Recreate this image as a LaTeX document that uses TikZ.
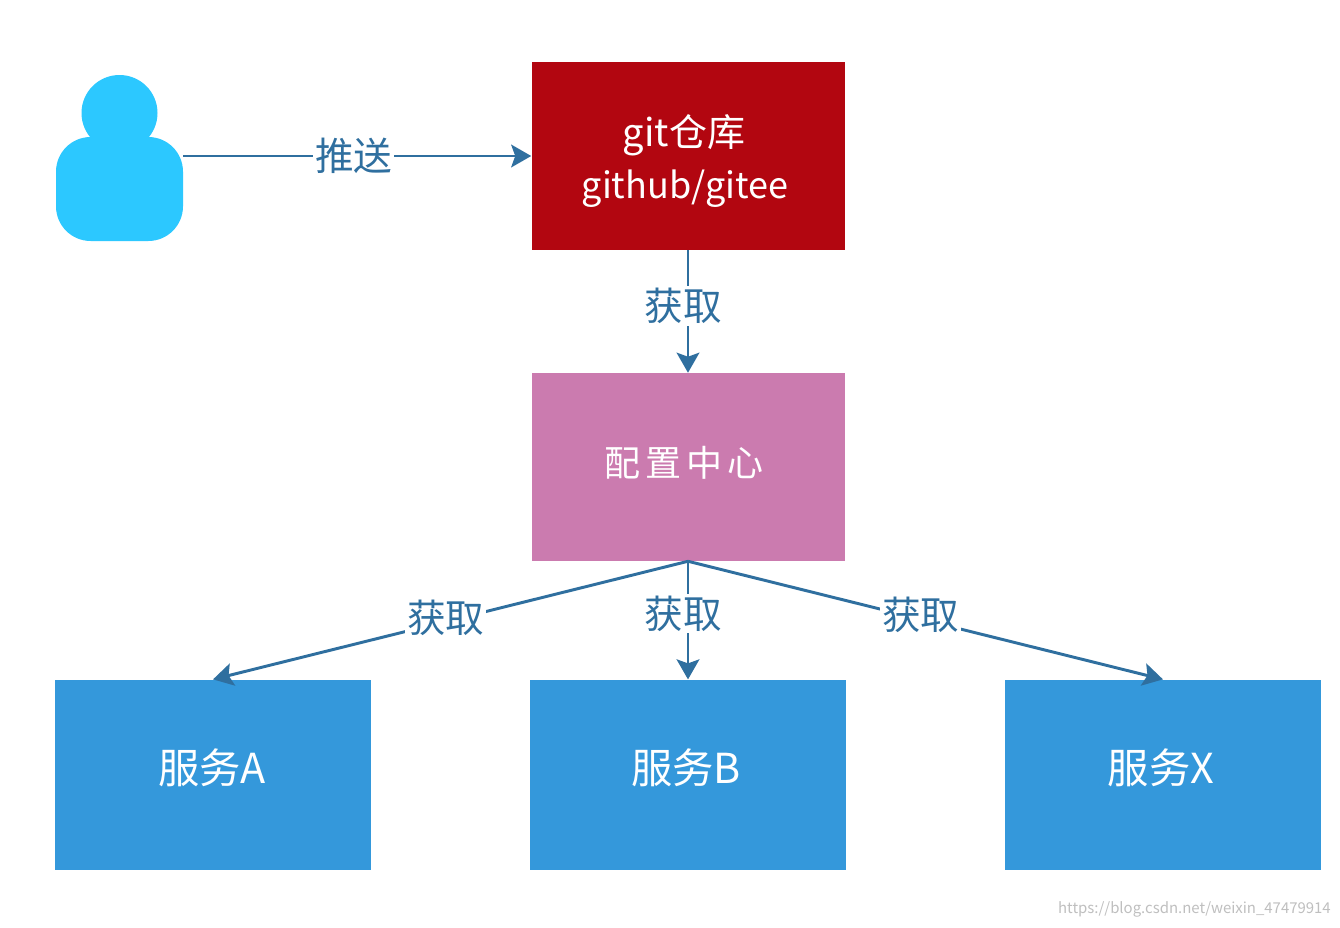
\documentclass[tikz,border=0pt]{standalone}
\usepackage{fontspec}
\setmainfont{Noto Sans CJK SC}
\usetikzlibrary{arrows.meta}
\definecolor{linec}{HTML}{2F6F9F}
\definecolor{bluebox}{HTML}{3498DB}
\definecolor{redbox}{HTML}{B20610}
\definecolor{pinkbox}{HTML}{CB7BAF}
\definecolor{person}{HTML}{2CC8FF}
\newcommand{\cjkbig}{\fontsize{31pt}{36pt}\selectfont}
\tikzset{
  x=0.75pt,y=-0.75pt,
  boxn/.style={draw=none,minimum width=#1*0.75pt,inner sep=0pt},
  boxt/.style={text=white,inner sep=0pt,align=center,font=\cjkbig},
  conn/.style={draw=linec,line width=2.2pt,-{Stealth[length=15pt,width=17pt,inset=3pt]}},
  lab/.style={fill=white,text=linec,inner sep=1.5pt,font=\fontsize{29pt}{30pt}\selectfont}
}
\begin{document}
\begin{tikzpicture}
\useasboundingbox (0,0) rectangle (1340,928);
\fill[white] (0,0) rectangle (1340,928);
\node[boxn=313,fill=redbox,minimum height=141pt] (git) at (688,156) {};
\node[boxn=313,fill=pinkbox,minimum height=141pt] (cfg) at (688,467) {};
\node[boxn=316,fill=bluebox,minimum height=143pt] (a) at (213,775) {};
\node[boxn=316,fill=bluebox,minimum height=143pt] (b) at (688,775) {};
\node[boxn=316,fill=bluebox,minimum height=143pt] (x) at (1163,775) {};
\node[boxt,font=\fontsize{28.5pt}{36pt}\selectfont] (gitt) at (684,135) {git仓库};
\node[boxt,font=\fontsize{27pt}{36pt}\selectfont] (gith) at (685,189) {github/gitee};
\node[boxt,font=\fontsize{27pt}{36pt}\selectfont,text width=165*0.75pt,align=center] (cfgt) at (684,463) {配\kern4pt 置\kern4pt 中\kern4pt 心};
\node[boxt] (at) at (212,768) {服务A};
\node[boxt] (bt) at (686,768) {服务B};
\node[boxt] (xt) at (1161,768) {服务X};
\fill[person] (119.5,113) circle (38);
\node[fill=person,draw=none,rounded corners=26pt,minimum width=127*0.75pt,minimum height=104*0.75pt,inner sep=0pt] (user) at (119.5,189) {};
\coordinate (ustart) at (user.east |- git.west);
\draw[conn] (ustart) -- node[lab,pos=0.49] (l1) {推送} (git.west);
\draw[conn] (git.south) -- node[lab,pos=0.47,xshift=-3.5pt,yshift=1.5pt] (l2) {获取} (cfg.north);
\coordinate (fork) at (cfg.south);
\draw[conn] (fork) -- node[lab,pos=0.51,yshift=3pt] (l3) {获取} (a.north);
\draw[conn] (fork) -- node[lab,pos=0.46,xshift=-3.5pt,yshift=1.5pt] (l4) {获取} (b.north);
\draw[conn] (fork) -- node[lab,pos=0.49,yshift=3pt] (l5) {获取} (x.north);
\node[text=black!25,font=\fontsize{11.2pt}{14pt}\selectfont,anchor=east,inner sep=0pt] (wm) at (1331,909) {https://blog.csdn.net/weixin\_47479914};
\end{tikzpicture}
\end{document}
